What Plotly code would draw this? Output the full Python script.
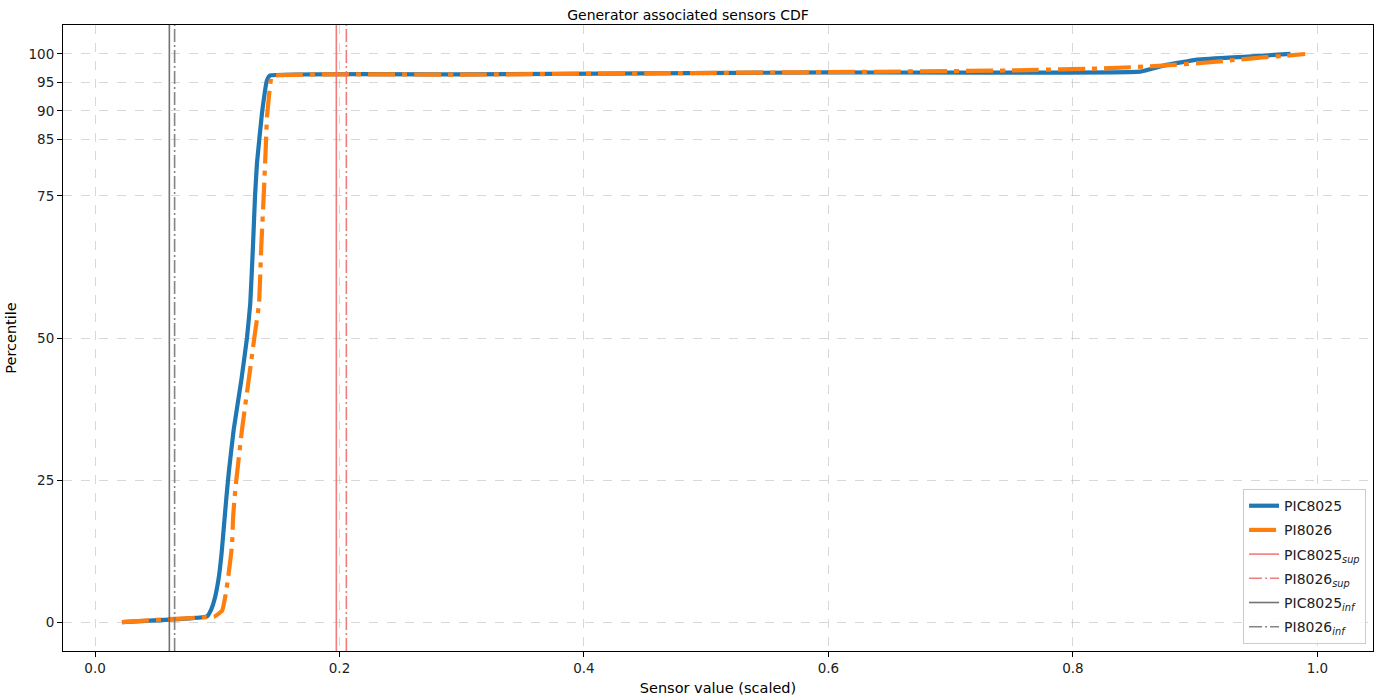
import plotly.graph_objects as go

# ---- data ----
pic8025_x = [0.022, 0.0916, 0.095, 0.098, 0.101, 0.1035, 0.1055, 0.1075, 0.1095, 0.1134,
             0.1197, 0.1243, 0.127, 0.1292, 0.1309, 0.1325, 0.1366, 0.1407, 0.143, 0.3,
             0.45, 0.6, 0.855, 0.875, 0.902, 0.94, 0.978]
pic8025_y = [0.0, 1.0, 2.2, 4.2, 7.5, 12.0, 17.0, 22.0, 26.5, 33.8,
             42.6, 50.0, 56.1, 66.1, 75.0, 80.8, 89.6, 95.4, 96.2, 96.4,
             96.6, 96.75, 96.9, 98.0, 99.0, 99.5, 100.0]

pi8026_x = [0.022, 0.06, 0.098, 0.104, 0.107, 0.109, 0.112, 0.113, 0.114, 0.1156,
            0.1202, 0.1257, 0.1303, 0.1342, 0.136, 0.138, 0.1395, 0.1407, 0.1434, 0.1448,
            0.3, 0.45, 0.6, 0.75, 0.83, 0.87, 0.91, 0.93, 0.955, 0.975, 0.99]
pi8026_y = [0.0, 0.5, 1.0, 2.0, 5.0, 8.0, 13.3, 18.5, 21.5, 25.0,
            33.8, 42.6, 50.0, 56.1, 66.1, 75.0, 82.6, 89.0, 94.8, 96.1,
            96.35, 96.6, 96.8, 97.1, 97.5, 97.9, 98.5, 98.9, 99.4, 99.7, 100.0]

threshold_names = ["PIC8025<sub><i>sup</i></sub>", "PI8026<sub><i>sup</i></sub>",
                   "PIC8025<sub><i>inf</i></sub>", "PI8026<sub><i>inf</i></sub>"]
threshold_values = [0.1974, 0.2056, 0.0608, 0.0651]

y_ticks = [0, 25, 50, 75, 85, 90, 95, 100]
x_ticks = [0.0, 0.2, 0.4, 0.6, 0.8, 1.0]

x_range = [-0.0262, 1.0455]
y_range = [-5.1, 105.1]

# ---- styles ----
threshold_colors = ["rgba(240,110,110,0.9)", "rgba(240,110,110,0.9)",
                    "rgba(90,90,90,0.85)", "rgba(110,110,110,0.85)"]
threshold_dash = ["solid", "13px,3px,2px,3px", "solid", "13px,3px,2px,3px"]

fig = go.Figure()

fig.add_trace(go.Scatter(x=pic8025_x, y=pic8025_y, mode="lines", name="PIC8025",
                         legendgroup="a",
                         line=dict(color="#1f77b4", width=4.2, shape="spline", smoothing=0.3)))
fig.add_trace(go.Scatter(x=pi8026_x, y=pi8026_y, mode="lines", name="PI8026",
                         legendgroup="b",
                         line=dict(color="#ff7f0e", width=4.2, dash="27px,7px,5px,7px",
                                   shape="spline", smoothing=0.3)))

for i, (nm, v) in enumerate(zip(threshold_names, threshold_values)):
    fig.add_trace(go.Scatter(x=[v, v], y=y_range, mode="lines", name=nm,
                             legendgroup="t%d" % i,
                             line=dict(color=threshold_colors[i], width=1.6,
                                       dash=threshold_dash[i])))

axis_common = dict(showline=True, linecolor="black", linewidth=1, mirror=True,
                   ticks="outside", ticklen=5, tickcolor="black", tickwidth=1,
                   showgrid=True, gridcolor="rgba(190,190,190,0.6)", griddash="dash",
                   gridwidth=1, zeroline=False,
                   tickfont=dict(family="DejaVu Sans", size=13.5, color="#222"))

fig.update_layout(
    width=1376, height=698,
    margin=dict(l=63, r=3, t=25, b=47),
    paper_bgcolor="white", plot_bgcolor="white",
    title=dict(text="Generator associated sensors CDF", x=0.5, xanchor="center",
               y=0.985, yanchor="top",
               font=dict(family="DejaVu Sans", size=14, color="black")),
    xaxis=dict(range=x_range, tickvals=x_ticks, tickformat=".1f",
               title=dict(text="Sensor value (scaled)", standoff=7,
                          font=dict(family="DejaVu Sans", size=14.5, color="black")),
               **axis_common),
    yaxis=dict(range=y_range, tickvals=y_ticks,
               title=dict(text="Percentile", standoff=8,
                          font=dict(family="DejaVu Sans", size=14.5, color="black")),
               **axis_common),
    legend=dict(x=0.9947, y=0.011, xanchor="right", yanchor="bottom",
                bgcolor="rgba(255,255,255,0.85)", bordercolor="#cccccc", borderwidth=1,
                font=dict(family="DejaVu Sans", size=14, color="#222"),
                tracegroupgap=3),
    showlegend=True,
)

fig.write_html("out.html")
